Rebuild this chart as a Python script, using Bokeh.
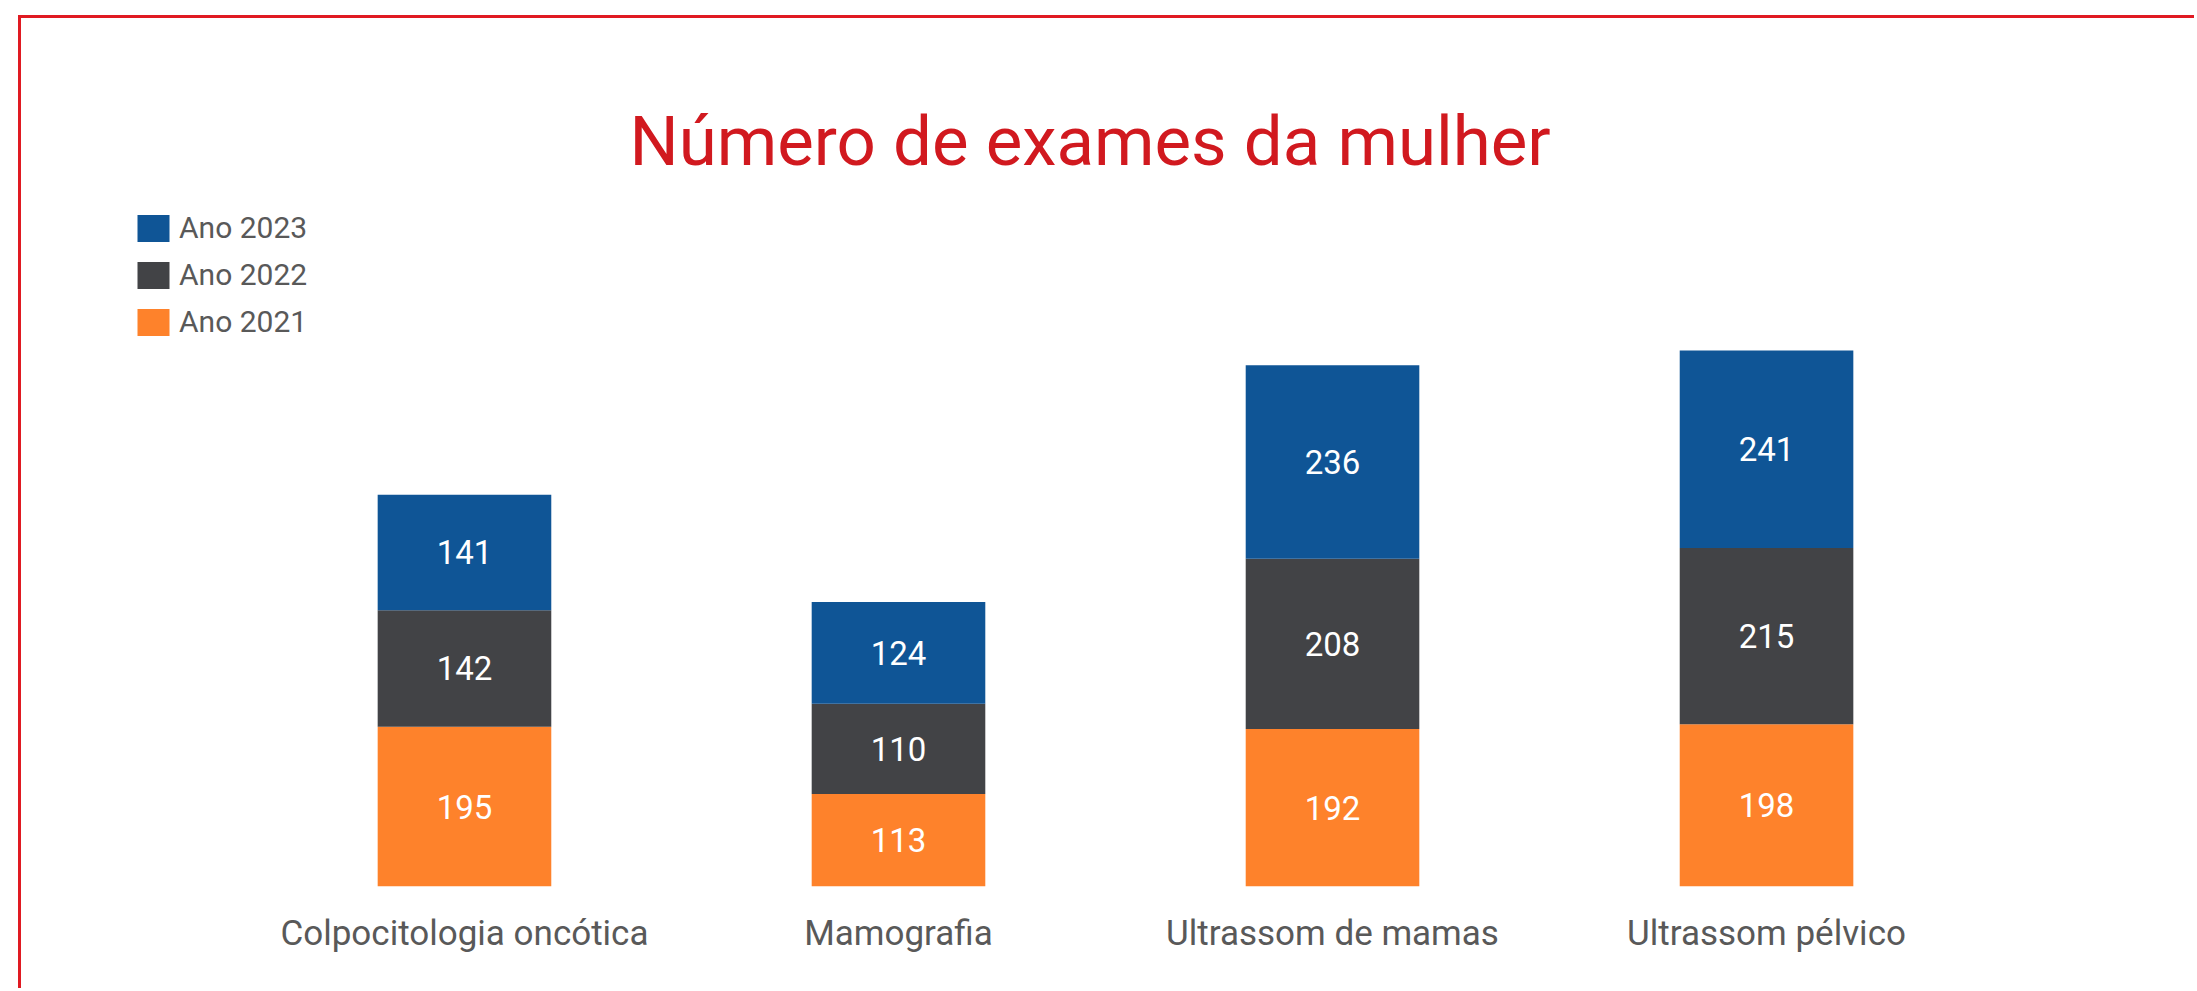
import numpy as np
from bokeh.plotting import figure
from bokeh.models import ColumnDataSource, FactorRange, Range1d, Legend, LegendItem
from bokeh.core.properties import value
from bokeh.embed import file_html
from bokeh.resources import INLINE

# ---- data ----
categories = ["Colpocitologia oncótica", "Mamografia", "Ultrassom de mamas", "Ultrassom pélvico"]
ano_2021 = [195, 113, 192, 198]
ano_2022 = [142, 110, 208, 215]
ano_2023 = [141, 124, 236, 241]
series_keys = ["ano_2021", "ano_2022", "ano_2023"]
series_labels = ["Ano 2021", "Ano 2022", "Ano 2023"]
title_text = "Número de exames da mulher"

# ---- styles ----
colors = ["#fe822b", "#424346", "#0f5596"]
title_color = "#d1191f"
border_color = "#e01a22"
text_gray = "#595959"
FONT = "Roboto"

source = ColumnDataSource(dict(cat=categories, ano_2021=ano_2021, ano_2022=ano_2022, ano_2023=ano_2023))

p = figure(
    width=2176, height=973,
    x_range=FactorRange(*categories, range_padding=0.2465),
    y_range=Range1d(0, 854),
    y_axis_location=None,
    output_backend="svg", toolbar_location=None,
    min_border_left=12, min_border_right=0, min_border_top=168, min_border_bottom=105,
)
p.margin = (15, 0, 0, 18)
p.styles = {
    "border-top": f"3px solid {border_color}",
    "border-left": f"3px solid {border_color}",
}

p.title.text = title_text
p.title.text_font = FONT
p.title.text_font_size = "69px"
p.title.text_font_style = "normal"
p.title.text_color = title_color
p.title.align = "left"
p.title.offset = 596
p.title.standoff = 10

renderers = p.vbar_stack(series_keys, x="cat", width=0.4, color=colors, line_color=None, source=source)

# data labels at the middle of each segment
a = np.array([ano_2021, ano_2022, ano_2023], dtype=float)
cum = np.cumsum(a, axis=0)
mids = cum - a / 2
lx, ly, lt = [], [], []
for i in range(3):
    for j, c in enumerate(categories):
        lx.append(c)
        ly.append(mids[i, j])
        lt.append(str(int(a[i, j])))
p.text(x=lx, y=ly, text=lt, text_color="white", text_font=value(FONT), text_font_size="33px",
       text_align="center", text_baseline="middle")

legend = Legend(
    items=[LegendItem(label=series_labels[k], renderers=[renderers[k]]) for k in (2, 1, 0)],
    location=(100, 547),
    glyph_width=40, glyph_height=34, label_height=27,
    label_text_font=FONT, label_text_font_size="30px", label_text_color=text_gray,
    label_standoff=6, spacing=12, padding=0, margin=0,
    border_line_color=None, background_fill_alpha=0,
)
p.add_layout(legend)

p.xaxis.axis_line_color = None
p.xaxis.major_tick_line_color = None
p.xaxis.minor_tick_line_color = None
p.xaxis.major_label_text_font = FONT
p.xaxis.major_label_text_font_size = "35px"
p.xaxis.major_label_text_color = text_gray
p.xaxis.major_label_standoff = 20

p.xgrid.grid_line_color = None
p.ygrid.grid_line_color = None
p.outline_line_color = None

open("out.html", "w").write(file_html(p, INLINE))
